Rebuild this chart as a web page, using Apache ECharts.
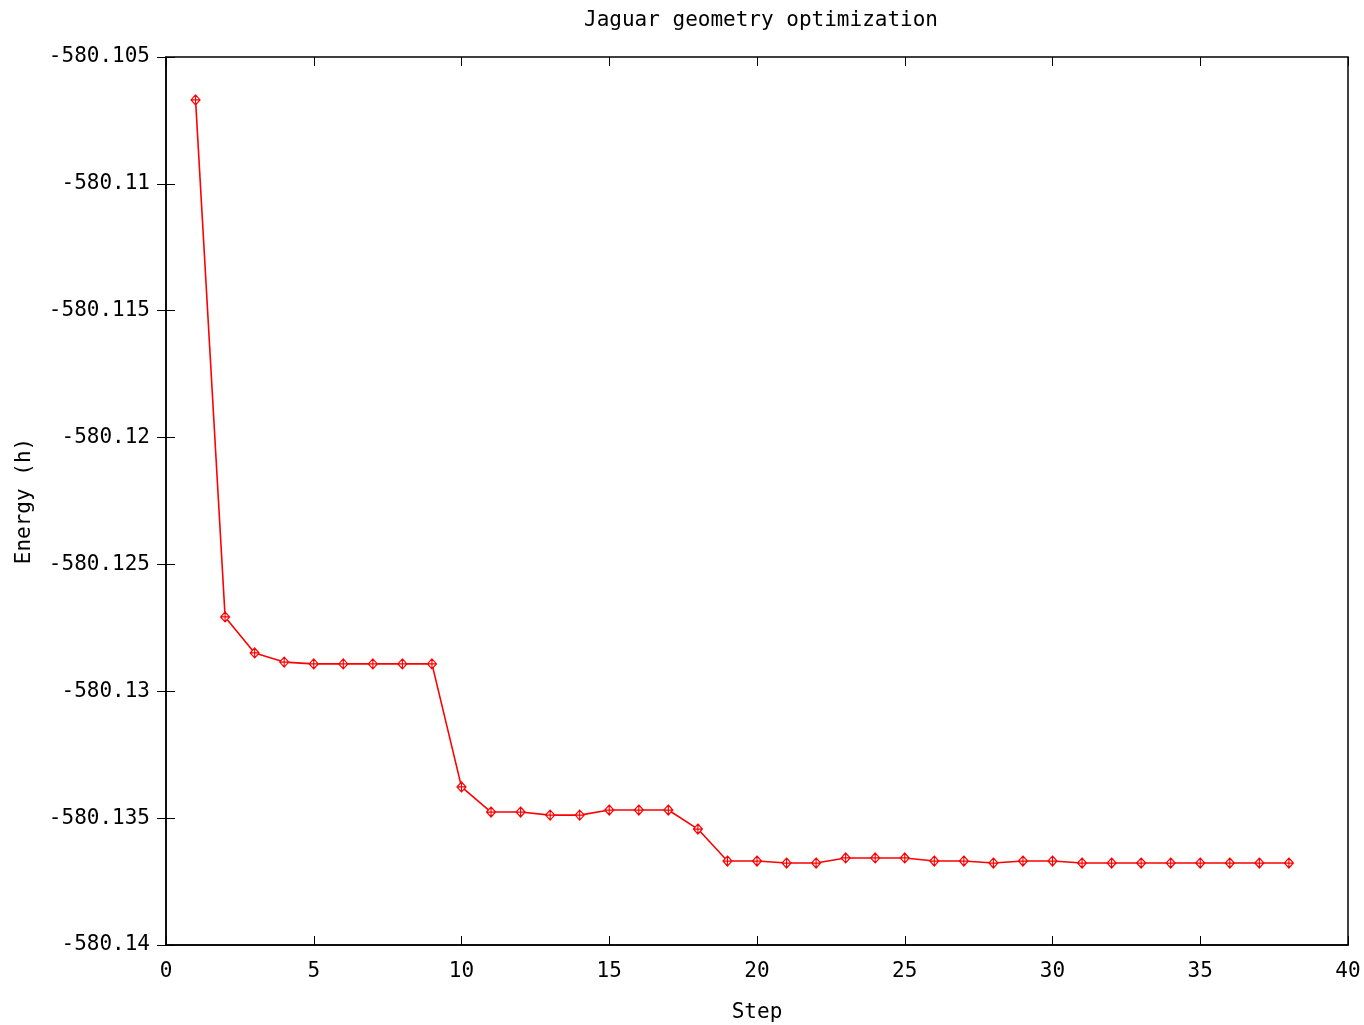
<!DOCTYPE html>
<html>
<head>
<meta charset="utf-8">
<script src="https://cdn.jsdelivr.net/npm/echarts@6/dist/echarts.min.js"></script>
<style>html,body{margin:0;padding:0;background:#fff;}#c{width:1364px;height:1025px;}</style>
</head>
<body>
<div id="c"></div>
<script>
const steps = [1,2,3,4,5,6,7,8,9,10,11,12,13,14,15,16,17,18,19,20,21,22,23,24,25,26,27,28,29,30,31,32,33,34,35,36,37,38];
const energy = [
  -580.10669, -580.12707, -580.12849, -580.12885, -580.12892, -580.12892, -580.12892, -580.12892, -580.12892,
  -580.13377, -580.13476, -580.13476, -580.13488, -580.13488, -580.13468, -580.13468, -580.13468, -580.13543,
  -580.13669, -580.13669, -580.13677, -580.13677, -580.13657, -580.13657, -580.13657, -580.13669, -580.13669,
  -580.13677, -580.13669, -580.13669, -580.13677, -580.13677, -580.13677, -580.13677, -580.13677, -580.13677,
  -580.13677, -580.13677
];
const titleText = 'Jaguar geometry optimization';
const xName = 'Step';
const yName = 'Energy (h)';

const font = 'DejaVu Sans Mono';
const fs = 21;
const chart = echarts.init(document.getElementById('c'));
const fmtY = v => {
  let s = v.toFixed(3);
  s = s.replace(/0+$/, '').replace(/\.$/, '');
  return s;
};
const tickStyle = {show: true, inside: true, length: 9, lineStyle: {color: '#000', width: 1}};
chart.setOption({
  animation: false,
  backgroundColor: '#fff',
  title: {text: titleText, left: 579, top: 5, textStyle: {fontFamily: font, fontSize: fs, fontWeight: 'normal', color: '#000'}},
  grid: {left: 166, right: 16, top: 57, bottom: 80, show: true, borderColor: '#000', borderWidth: 1.5, containLabel: false, outerBoundsMode: 'none'},
  xAxis: [{
    type: 'value', min: 0, max: 40, interval: 5,
    name: xName, nameLocation: 'middle', nameGap: 57,
    nameTextStyle: {fontFamily: font, fontSize: fs, color: '#000'},
    axisLine: {show: true, lineStyle: {color: '#000', width: 1.5}},
    axisTick: tickStyle,
    axisLabel: {fontFamily: font, fontSize: fs, color: '#000', margin: 16},
    splitLine: {show: false}
  }, {
    type: 'value', min: 0, max: 40, interval: 5, position: 'top',
    axisLine: {show: false}, axisTick: tickStyle, axisLabel: {show: false}, splitLine: {show: false}
  }],
  yAxis: [{
    type: 'value', min: -580.14, max: -580.105, interval: 0.005,
    name: yName, nameLocation: 'middle', nameGap: 131, nameRotate: 90,
    nameTextStyle: {fontFamily: font, fontSize: fs, color: '#000'},
    axisLine: {show: true, lineStyle: {color: '#000', width: 1.5}},
    axisTick: tickStyle,
    axisLabel: {fontFamily: font, fontSize: fs, color: '#000', margin: 16, formatter: fmtY},
    splitLine: {show: false}
  }, {
    type: 'value', min: -580.14, max: -580.105, interval: 0.005, position: 'right',
    axisLine: {show: false}, axisTick: tickStyle, axisLabel: {show: false}, splitLine: {show: false}
  }],
  series: [{
    type: 'line',
    data: steps.map((s, i) => [s, energy[i]]),
    xAxisIndex: 0, yAxisIndex: 0,
    symbol: 'path://M0,-5L5,0L0,5L-5,0Z M0,-5L0,5 M-5,0L5,0', symbolSize: [9, 10], showAllSymbol: true,
    itemStyle: {color: '#fff', borderColor: '#ff0000', borderWidth: 1.2},
    lineStyle: {color: '#ff0000', width: 1.6}
  }]
});
</script>
</body>
</html>
